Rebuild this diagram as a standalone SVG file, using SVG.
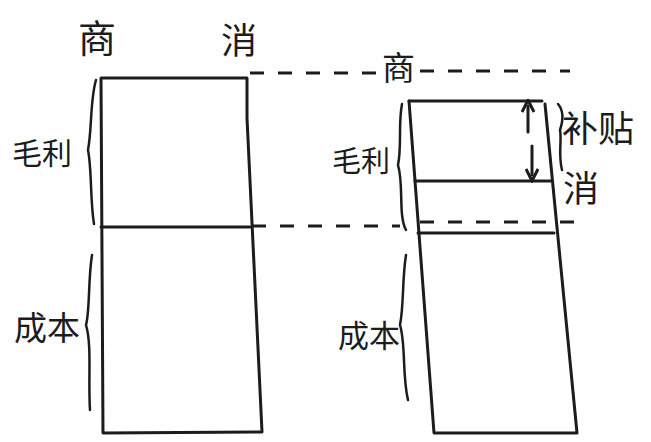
<svg xmlns="http://www.w3.org/2000/svg" width="651" height="442" viewBox="0 0 651 442">
<style>
.ln{fill:none;stroke:#1c1c1c;stroke-width:3;stroke-linecap:round;stroke-linejoin:round}
.br{fill:none;stroke:#1c1c1c;stroke-width:2.5;stroke-linecap:round;stroke-linejoin:round}
.ds{fill:none;stroke:#1c1c1c;stroke-width:3;stroke-dasharray:14 14}
.t{font-family:"Noto Sans CJK SC","Noto Sans CJK JP",sans-serif;fill:#1c1c1c}
</style>
<defs>
<marker id="ah" viewBox="0 0 10 10" refX="5" refY="5" markerWidth="5" markerHeight="5" orient="auto-start-reverse">
<path d="M1,1 L9,5 L1,9" fill="none" stroke="#1c1c1c" stroke-width="2"/>
</marker>
</defs>
<rect width="651" height="442" fill="#ffffff"/>
<g id="connectors">
<path class="ds" d="M250 73 H385"/>
<path class="ds" d="M420 71 H570"/>
<path class="ds" d="M252 226 H400"/>
<path class="ds" d="M420 222 H580"/>
<path class="ln" marker-end="url(#ah)" d="M528 132 V106"/>
<path class="ln" marker-end="url(#ah)" d="M532 146 V175"/>
</g>
<g id="left-box">
<path class="ln" d="M101 78 H247 V118 L262 432 L103 433 L101 78"/>
<path class="ln" d="M101 227 H250"/>
</g>
<g id="right-box">
<path class="ln" d="M409 101 H542"/>
<path class="ln" d="M409 101 L434 433 H577 L545 104"/>
<path class="ln" d="M415 181 H551"/>
<path class="ln" d="M418 233 H554"/>
</g>
<g id="left-labels">
<text class="t" x="78" y="52" style="font-size:38px">商</text>
<text class="t" x="221" y="54" style="font-size:36px">消</text>
<text class="t" x="12" y="164" style="font-size:30px">毛利</text>
<text class="t" x="14" y="340" style="font-size:33px">成本</text>
<path class="br" d="M96 80 C90 100 92 130 88 150 C92 170 90 200 94 224"/>
<path class="br" d="M92 255 C88 280 90 310 86 325 C92 345 88 380 90 410"/>
</g>
<g id="right-labels">
<text class="t" x="382" y="80" style="font-size:33px">商</text>
<text class="t" x="332" y="172" style="font-size:29px">毛利</text>
<text class="t" x="338" y="347" style="font-size:31px">成本</text>
<text class="t" x="562" y="142" style="font-size:36px">补贴</text>
<text class="t" x="563" y="202" style="font-size:36px">消</text>
<path class="br" d="M402 104 C398 125 402 145 398 165 C404 185 398 215 406 230"/>
<path class="br" d="M406 255 C402 280 404 305 400 325 C406 345 402 375 408 400"/>
<path class="br" d="M558 104 C565 112 562 124 560 130 C562 140 558 155 562 170"/>
</g>
</svg>
